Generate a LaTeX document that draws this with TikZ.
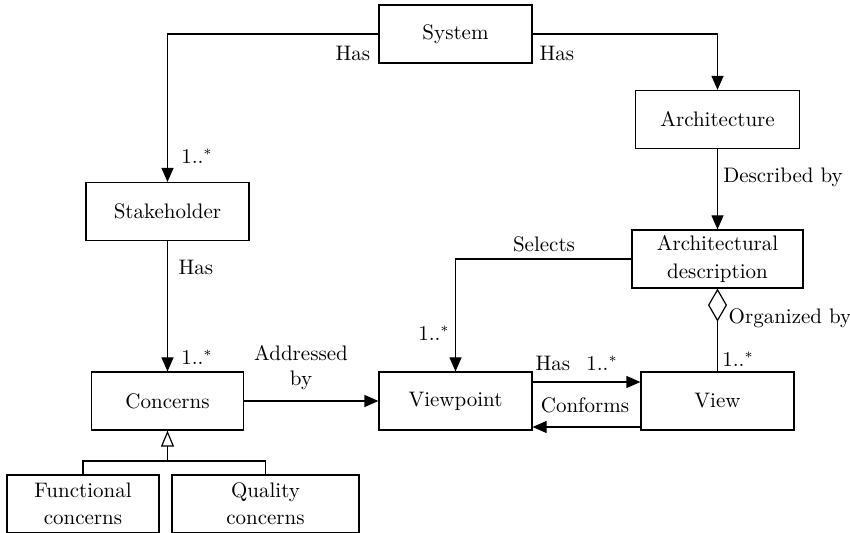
\documentclass[tikz,border=0pt]{standalone}
\usetikzlibrary{arrows.meta}
\newcommand{\mult}{1..$^{*}$}

\begin{document}
\begin{tikzpicture}[x=0.5pt,y=-0.5pt,font=\fontsize{10.5}{12.6}\selectfont,
  box/.style={draw,line width=0.6pt,minimum height=29pt,inner sep=2pt,align=center},
  lnk/.style={line width=0.6pt},
  arr/.style={lnk,-{Triangle[length=7pt,width=6pt]}},
  gen/.style={lnk,-{Triangle[open,length=8pt,width=6.5pt]}},
  agg/.style={lnk,-{Diamond[open,length=16.5pt,width=9.5pt]}},
  lbl/.style={inner sep=1pt,align=center}]
  \useasboundingbox (0,0) rectangle (850,533);
  \node[box,minimum width=76.5pt] (sys) at (455.5,34) {System};
  \node[box,minimum width=82pt] (arch) at (717.5,119.5) {Architecture};
  \node[box,minimum width=85.5pt] (ad) at (717.5,259) {Architectural\\[1pt]description};
  \node[box,minimum width=81.5pt] (stk) at (167.5,211.5) {Stakeholder};
  \node[box,minimum width=76pt] (conc) at (167.5,401) {Concerns};
  \node[box,minimum width=76.5pt] (vp) at (455.5,401) {Viewpoint};
  \node[box,minimum width=76.5pt] (view) at (717.5,401) {View};
  \node[box,minimum width=76pt] (func) at (83,504) {Functional\\[1pt]concerns};
  \node[box,minimum width=93.5pt] (qual) at (265.5,504) {Quality\\[1pt]concerns};
  \coordinate (fork) at (167.5,461);

  \draw[arr] (sys.west) -| (stk.north);
  \draw[arr] (sys.east) -| (arch.north);
  \draw[arr] (arch.south) -- (ad.north);
  \draw[arr] (ad.west) -| (vp.north);
  \draw[arr] (stk.south) -- (conc.north);
  \draw[arr] (conc.east) -- (vp.west);
  \draw[arr] ([yshift=9.5pt]vp.east) -- ([yshift=9.5pt]view.west);
  \draw[arr] ([yshift=-13pt]view.west) -- ([yshift=-13pt]vp.east);
  \draw[agg] (view.north) -- (ad.south);
  \draw[lnk] (func.north) |- (fork) -| (qual.north);
  \draw[gen] (fork) -- (conc.south);

  \node[lbl] (l1) at (353,53) {Has};
  \node[lbl] (l2) at (557,53) {Has};
  \node[lbl] (l3) at (197,156) {\mult};
  \node[lbl] (l4) at (783,177) {Described by};
  \node[lbl] (l5) at (196,267) {Has};
  \node[lbl] (l6) at (197,357) {\mult};
  \node[lbl] (l7) at (301,368) {Addressed\\by};
  \node[lbl] (l8) at (544,244) {Selects};
  \node[lbl] (l9) at (434,333) {\mult};
  \node[lbl] (l10) at (790,318) {Organized by};
  \node[lbl] (l11) at (738,359) {\mult};
  \node[lbl] (l12) at (553,363) {Has};
  \node[lbl] (l13) at (602,363) {\mult};
  \node[lbl] (l14) at (585,405) {Conforms};
\end{tikzpicture}
\end{document}
